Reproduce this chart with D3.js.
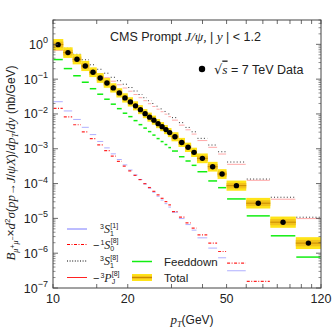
<!DOCTYPE html>
<html>
<head>
<meta charset="utf-8">
<script src="https://cdn.jsdelivr.net/npm/d3@7"></script>
<style>
  body { margin: 0; background: #fff; }
  text { font-family: "Liberation Sans", Arial, sans-serif; fill: #222; }
  .it { font-family: "Liberation Serif", "Times New Roman", serif; font-style: italic; }
</style>
</head>
<body>
<svg id="chart"></svg>
<script>
// pT bin edges (GeV)
const ptEdges = [10, 11, 12, 13, 14, 15, 16, 17, 18, 19, 20, 21, 22, 23, 24, 25, 26, 27, 28, 29, 30,
  32, 34, 36, 38, 42, 46, 50, 60, 75, 95, 120];

// CMS data, nb/GeV
const cmsData = [0.98, 0.578, 0.372, 0.239, 0.158, 0.108, 0.0778, 0.056, 0.0403, 0.0289,
  0.0222, 0.0171, 0.0133, 0.0102, 0.0081, 0.00664, 0.00527, 0.00432, 0.00355, 0.00291,
  0.00221, 0.00152, 0.0011, 0.000789, 0.000531, 0.000305, 0.000188, 8.71e-5, 2.73e-5, 7.78e-6, 1.95e-6];

// total prediction and relative uncertainty
const total = [0.98, 0.578, 0.372, 0.239, 0.158, 0.108, 0.0778, 0.056, 0.0403, 0.0289,
  0.0222, 0.0171, 0.0133, 0.0102, 0.0081, 0.00664, 0.00527, 0.00432, 0.00355, 0.00291,
  0.00221, 0.00152, 0.0011, 0.000789, 0.000531, 0.000305, 0.000188, 8.71e-5, 2.73e-5, 7.78e-6, 1.95e-6];
const totalErr = [0.45, 0.42, 0.4, 0.4, 0.38, 0.38, 0.38, 0.36, 0.36, 0.36,
  0.36, 0.35, 0.35, 0.35, 0.35, 0.35, 0.35, 0.35, 0.35, 0.35,
  0.35, 0.35, 0.36, 0.36, 0.38, 0.38, 0.38, 0.4, 0.42, 0.45, 0.48];

const s1singlet = [0.0225, 0.0122, 0.00695, 0.00413, 0.00255, 0.00162, 0.00106, 0.000714, 0.000491, 0.000344,
  0.000245, 0.000177, 0.000131, 9.75e-5, 7.38e-5, 5.63e-5, 4.33e-5, 3.37e-5, 2.65e-5, 2.11e-5,
  1.51e-5, 9.87e-6, 6.64e-6, 4.59e-6, 2.76e-6, 1.4e-6, 7.38e-7, 3.13e-7, null, null, null];

const s0octet = [0.0144, 0.0082, 0.0049, 0.00305, 0.00196, 0.00129, 0.00088, 0.000614, 0.000436, 0.000315,
  0.000231, 0.000172, 0.00013, 9.93e-5, 7.69e-5, 5.98e-5, 4.74e-5, 3.77e-5, 3.03e-5, 2.44e-5,
  1.57e-5, 1.08e-5, 7.43e-6, 5.24e-6, 3.37e-6, 1.95e-6, 1.12e-6, 5.2e-7, 1.55e-7, null, null];

const s8octet = [1.14, 0.768, 0.517, 0.36, 0.259, 0.192, 0.148, 0.113, 0.09, 0.0714,
  0.0574, 0.0456, 0.0362, 0.0293, 0.024, 0.02, 0.0167, 0.014, 0.0118, 0.01,
  0.00784, 0.00563, 0.0041, 0.00307, 0.00199, 0.00128, 0.00082, 0.000416, 0.000135, 4.05e-5, 1.08e-5];

const pjOctet = [0.673, 0.468, 0.337, 0.25, 0.186, 0.143, 0.11, 0.0871, 0.0691, 0.0556,
  0.045, 0.0362, 0.0293, 0.024, 0.0197, 0.0164, 0.0137, 0.0116, 0.00986, 0.00837,
  0.00664, 0.00477, 0.0035, 0.00264, 0.00172, 0.0011, 0.000705, 0.000357, 0.000124, 3.55e-5, 9.86e-6];

const feeddown = [0.365, 0.201, 0.125, 0.0815, 0.0531, 0.0369, 0.0265, 0.0191, 0.0142, 0.0105,
  0.00837, 0.00643, 0.00493, 0.00392, 0.00311, 0.00247, 0.00196, 0.00161, 0.00132, 0.00108,
  0.00086, 0.00059, 0.000445, 0.000334, 0.000219, 0.000119, 7.62e-5, 3.62e-5, 1.18e-5, 3.16e-6, 7.73e-7];

const yTicks = [1, 0.1, 0.01, 1e-3, 1e-4, 1e-5, 1e-6, 1e-7];
const yTickExp = ["0", "\u22121", "\u22122", "\u22123", "\u22124", "\u22125", "\u22126", "\u22127"];
const xLabelTicks = [10, 20, 50, 120];
const xMinorTicks = [15, 30, 40, 60, 70, 80, 90, 100, 110];

const W = 332, H = 332;
const m = { left: 53, right: 11, top: 20, bottom: 44 };

const svg = d3.select("#chart").attr("width", W).attr("height", H);

const x = d3.scaleLog().domain([10, 120]).range([m.left, W - m.right]);
const y = d3.scaleLog().domain([1e-7, 5]).range([H - m.bottom, m.top]);

svg.append("defs").append("clipPath").attr("id", "clip")
  .append("rect")
  .attr("x", m.left).attr("y", m.top)
  .attr("width", W - m.left - m.right).attr("height", H - m.top - m.bottom);

const plot = svg.append("g").attr("clip-path", "url(#clip)");

const bins = d3.range(ptEdges.length - 1).map((i) => ({ lo: ptEdges[i], hi: ptEdges[i + 1], i }));

// step segments for a series
const drawSteps = (vals, cls, stroke, width, dash, opacity) => {
  plot.append("g").attr("class", cls)
    .selectAll("line")
    .data(bins.filter((b) => vals[b.i] != null))
    .enter()
    .append("line")
    .attr("x1", (b) => x(b.lo) + 0.5)
    .attr("x2", (b) => x(b.hi) - 0.5)
    .attr("y1", (b) => y(vals[b.i]))
    .attr("y2", (b) => y(vals[b.i]))
    .attr("stroke", stroke)
    .attr("stroke-width", width)
    .attr("stroke-dasharray", dash)
    .attr("opacity", opacity);
};

drawSteps(s1singlet, "s1", "#7b7bff", 1, null, 0.6);
drawSteps(s0octet, "s0", "#ff0000", 1.2, "3,1.5,1,1.5", 0.85);
drawSteps(pjOctet, "pj", "#ff5555", 1, null, 0.5);
drawSteps(s8octet, "s8", "#000", 1, "1,2.2", 0.8);
drawSteps(feeddown, "fd", "#11ee11", 1.5, null, 1);

// total bands
const bandG = plot.append("g").attr("class", "bands");
bandG.selectAll(".outer")
  .data(bins)
  .enter()
  .append("rect")
  .attr("class", "outer")
  .attr("x", (b) => x(b.lo))
  .attr("width", (b) => x(b.hi) - x(b.lo))
  .attr("y", (b) => y(total[b.i] * (1 + totalErr[b.i])))
  .attr("height", (b) => y(total[b.i] / (1 + totalErr[b.i])) - y(total[b.i] * (1 + totalErr[b.i])))
  .attr("fill", "#ffe419");
bandG.selectAll(".inner")
  .data(bins)
  .enter()
  .append("rect")
  .attr("class", "inner")
  .attr("x", (b) => x(b.lo))
  .attr("width", (b) => x(b.hi) - x(b.lo))
  .attr("y", (b) => y(total[b.i] * (1 + totalErr[b.i] / 2)))
  .attr("height", (b) => y(total[b.i] / (1 + totalErr[b.i] / 2)) - y(total[b.i] * (1 + totalErr[b.i] / 2)))
  .attr("fill", "#f3c21a");
bandG.selectAll(".mid")
  .data(bins)
  .enter()
  .append("line")
  .attr("class", "mid")
  .attr("x1", (b) => x(b.lo))
  .attr("x2", (b) => x(b.hi))
  .attr("y1", (b) => y(total[b.i]))
  .attr("y2", (b) => y(total[b.i]))
  .attr("stroke", "#c98a00")
  .attr("stroke-width", 1);

// data points
plot.append("g").attr("class", "data")
  .selectAll("circle")
  .data(bins)
  .enter()
  .append("circle")
  .attr("cx", (b) => x(Math.sqrt(b.lo * b.hi)))
  .attr("cy", (b) => y(cmsData[b.i]))
  .attr("r", 2.7)
  .attr("fill", "#000");

// frame and ticks
const frame = svg.append("g").attr("class", "frame");
frame.append("rect")
  .attr("x", m.left).attr("y", m.top)
  .attr("width", W - m.left - m.right).attr("height", H - m.top - m.bottom)
  .attr("fill", "none").attr("stroke", "#444").attr("stroke-width", 1);

const yMinor = [];
for (let e = -7; e <= 0; e++) {
  for (let k = 2; k <= 9; k++) {
    const v = k * Math.pow(10, e);
    if (v <= 5) yMinor.push(v);
  }
}
const xAll = xLabelTicks.concat(xMinorTicks);
[m.left, W - m.right].forEach((x0, side) => {
  const dir = side === 0 ? 1 : -1;
  frame.selectAll(null).data(yTicks).enter().append("line")
    .attr("x1", x0).attr("x2", x0 + dir * 5)
    .attr("y1", (d) => y(d)).attr("y2", (d) => y(d))
    .attr("stroke", "#444").attr("stroke-width", 0.8);
  frame.selectAll(null).data(yMinor).enter().append("line")
    .attr("x1", x0).attr("x2", x0 + dir * 2.5)
    .attr("y1", (d) => y(d)).attr("y2", (d) => y(d))
    .attr("stroke", "#444").attr("stroke-width", 0.6);
});
[H - m.bottom, m.top].forEach((y0, side) => {
  const dir = side === 0 ? -1 : 1;
  frame.selectAll(null).data(xAll).enter().append("line")
    .attr("x1", (d) => x(d)).attr("x2", (d) => x(d))
    .attr("y1", y0).attr("y2", y0 + dir * 4)
    .attr("stroke", "#444").attr("stroke-width", 0.8);
});

// tick labels
const yl = svg.append("g").attr("class", "ylabels");
yTicks.forEach((d, k) => {
  const t = yl.append("text")
    .attr("x", 48).attr("y", y(d) + 4.5)
    .attr("text-anchor", "end")
    .style("font-size", "12.5px");
  t.append("tspan").text("10");
  t.append("tspan").attr("dy", -5.5).style("font-size", "9px").text(yTickExp[k]);
});
svg.append("g").selectAll("text")
  .data(xLabelTicks)
  .enter()
  .append("text")
  .attr("x", (d) => x(d))
  .attr("y", H - m.bottom + 15)
  .attr("text-anchor", "middle")
  .style("font-size", "12.5px")
  .text((d) => d);

// x title
const xt = svg.append("text").attr("x", 192).attr("y", 324).attr("text-anchor", "middle").style("font-size", "12px");
xt.append("tspan").attr("class", "it").style("font-size", "13px").text("p");
xt.append("tspan").attr("class", "it").attr("dy", 2.5).style("font-size", "8.5px").text("T");
xt.append("tspan").attr("dy", -2.5).text("(GeV)");

// y title
const yt = svg.append("text")
  .attr("transform", "translate(15,163) rotate(-90)")
  .attr("text-anchor", "middle")
  .style("font-size", "12px");
yt.append("tspan").attr("class", "it").style("font-size", "13px").text("B");
yt.append("tspan").attr("class", "it").attr("dy", 2.5).style("font-size", "8px").text("\u03bc");
yt.append("tspan").attr("dy", -3).style("font-size", "7px").text("+");
yt.append("tspan").attr("class", "it").attr("dy", 3).style("font-size", "8px").text("\u03bc");
yt.append("tspan").attr("dy", -3).style("font-size", "7px").text("\u2212");
yt.append("tspan").attr("dy", 0.5).text("\u00d7");
yt.append("tspan").attr("class", "it").style("font-size", "13px").text("d");
yt.append("tspan").attr("dy", -5).style("font-size", "8px").text("2");
yt.append("tspan").attr("class", "it").attr("dy", 5).style("font-size", "13px").text("\u03c3");
yt.append("tspan").text("(");
yt.append("tspan").attr("class", "it").style("font-size", "13px").text("pp");
yt.append("tspan").text("\u2192");
yt.append("tspan").attr("class", "it").style("font-size", "13px").text("J");
yt.append("tspan").text("/");
yt.append("tspan").attr("class", "it").style("font-size", "13px").text("\u03c8");
yt.append("tspan").attr("class", "it").style("font-size", "13px").text("X");
yt.append("tspan").text(")/");
yt.append("tspan").attr("class", "it").style("font-size", "13px").text("dp");
yt.append("tspan").attr("class", "it").attr("dy", 2.5).style("font-size", "8px").text("T");
yt.append("tspan").attr("dy", -2.5).text("/");
yt.append("tspan").attr("class", "it").style("font-size", "13px").text("dy");
yt.append("tspan").text(" (nb/GeV)");

// header
const h1 = svg.append("text").attr("x", 110).attr("y", 41).style("font-size", "12.5px");
h1.append("tspan").text("CMS Prompt ");
h1.append("tspan").attr("class", "it").style("font-size", "13.5px").text("J/\u03c8,");
h1.append("tspan").text("  |");
h1.append("tspan").attr("class", "it").style("font-size", "13.5px").text(" y ");
h1.append("tspan").text("| < 1.2");

svg.append("circle").attr("cx", 202).attr("cy", 69).attr("r", 3.2).attr("fill", "#000");
const h2 = svg.append("text").attr("x", 214).attr("y", 73.5).style("font-size", "12.5px");
h2.append("tspan").style("font-family", "DejaVu Serif").style("font-size", "13px").text("\u221a");
h2.append("tspan").attr("class", "it").style("font-size", "13.5px").style("text-decoration", "overline").text("s");
h2.append("tspan").text(" = 7 TeV Data");

// legend
const leg = svg.append("g").attr("class", "legend");
const legItems = [
  { y: 229, stroke: "#7b7bff", dash: null, w: 1, pre: "", sup: "3", base: "S", sub: "1", sup2: "[1]" },
  { y: 244.5, stroke: "#ff0000", dash: "3,1.5,1,1.5", w: 1.2, pre: "\u2212", sup: "1", base: "S", sub: "0", sup2: "[8]" },
  { y: 261, stroke: "#000", dash: "1,1.6", w: 1, pre: "", sup: "3", base: "S", sub: "1", sup2: "[8]" },
  { y: 277.5, stroke: "#ff2222", dash: null, w: 1, pre: "\u2212", sup: "3", base: "P", sub: "J", sup2: "[8]" }
];
legItems.forEach((d) => {
  leg.append("line").attr("x1", 67).attr("x2", 87).attr("y1", d.y).attr("y2", d.y)
    .attr("stroke", d.stroke).attr("stroke-width", d.w).attr("stroke-dasharray", d.dash);
  const t = leg.append("text").attr("x", d.pre ? 93 : 99).attr("y", d.y + 4).style("font-size", "11px");
  if (d.pre) t.append("tspan").text(d.pre);
  t.append("tspan").attr("dx", 1).attr("dy", -4).style("font-size", "7px").text(d.sup);
  t.append("tspan").attr("class", "it").attr("dy", 4).style("font-size", "12px").text(d.base);
  t.append("tspan").attr("dy", 2.5).style("font-size", "7px").text(d.sub);
  t.append("tspan").attr("dx", -3.5).attr("dy", -8).style("font-size", "7px").text(d.sup2);
});
leg.append("line").attr("x1", 132).attr("x2", 152).attr("y1", 261.5).attr("y2", 261.5)
  .attr("stroke", "#11ee11").attr("stroke-width", 1.5);
leg.append("text").attr("x", 164).attr("y", 266).style("font-size", "11.5px").text("Feeddown");
leg.append("rect").attr("x", 132).attr("y", 274).attr("width", 20).attr("height", 7).attr("fill", "#ffe419");
leg.append("rect").attr("x", 132).attr("y", 275.8).attr("width", 20).attr("height", 3.4).attr("fill", "#f3c21a");
leg.append("line").attr("x1", 132).attr("x2", 152).attr("y1", 277.5).attr("y2", 277.5)
  .attr("stroke", "#c98a00").attr("stroke-width", 1);
leg.append("text").attr("x", 164).attr("y", 281.5).style("font-size", "11.5px").text("Total");
</script>
</body>
</html>
